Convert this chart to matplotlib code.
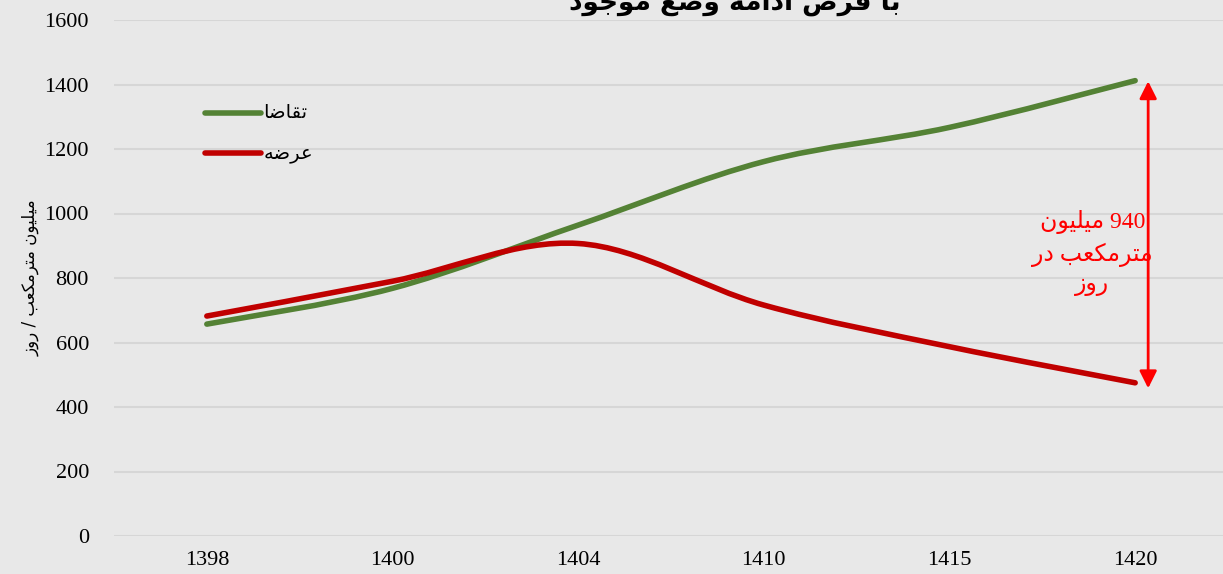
import re

import matplotlib
matplotlib.use("Agg")
from matplotlib import pyplot as plt
from matplotlib.path import Path
from matplotlib.patches import PathPatch

# داده‌ها
years = ["1398", "1400", "1404", "1410", "1415", "1420"]
demand = [657, 768, 964, 1161, 1267, 1412]   # تقاضا
supply = [682, 790, 907, 716, 587, 475]      # عرضه
yticks = [0, 200, 400, 600, 800, 1000, 1200, 1400, 1600]

title = "با فرض ادامه وضع موجود"
ylabel = "میلیون مترمکعب / روز"
demand_label = "تقاضا"
supply_label = "عرضه"
note_lines = ["940 میلیون", "مترمکعب در", "روز"]

# شکل‌دهی دستی حروف فارسی (matplotlib خودش این کار را نمی‌کند)
FORMS = {
    "ا": ("\uFE8D", "\uFE8E"), "د": ("\uFEA9", "\uFEAA"), "ر": ("\uFEAD", "\uFEAE"),
    "ز": ("\uFEAF", "\uFEB0"), "و": ("\uFEED", "\uFEEE"),
    "ب": ("\uFE8F", "\uFE90", "\uFE91", "\uFE92"), "ت": ("\uFE95", "\uFE96", "\uFE97", "\uFE98"),
    "ج": ("\uFE9D", "\uFE9E", "\uFE9F", "\uFEA0"), "ض": ("\uFEBD", "\uFEBE", "\uFEBF", "\uFEC0"),
    "ع": ("\uFEC9", "\uFECA", "\uFECB", "\uFECC"), "ف": ("\uFED1", "\uFED2", "\uFED3", "\uFED4"),
    "ق": ("\uFED5", "\uFED6", "\uFED7", "\uFED8"), "ک": ("\uFB8E", "\uFB8F", "\uFB90", "\uFB91"),
    "ل": ("\uFEDD", "\uFEDE", "\uFEDF", "\uFEE0"), "م": ("\uFEE1", "\uFEE2", "\uFEE3", "\uFEE4"),
    "ن": ("\uFEE5", "\uFEE6", "\uFEE7", "\uFEE8"), "ه": ("\uFEE9", "\uFEEA", "\uFEEB", "\uFEEC"),
    "ی": ("\uFBFC", "\uFBFD", "\uFBFE", "\uFBFF"),
}


def fa(text):
    out = []
    for i, c in enumerate(text):
        if c not in FORMS:
            out.append(c)
            continue
        prev = text[i - 1] if i > 0 else ""
        nxt = text[i + 1] if i + 1 < len(text) else ""
        f = FORMS[c]
        jp = prev in FORMS and len(FORMS[prev]) == 4
        jn = nxt in FORMS and len(f) == 4
        if jp and jn:
            out.append(f[3])
        elif jp:
            out.append(f[1])
        elif jn:
            out.append(f[2])
        else:
            out.append(f[0])
    vis = "".join(out)[::-1]
    return re.sub(r"[0-9]+", lambda m: m.group()[::-1], vis)


def smooth_path(ys):
    # خط نرم به سبک اکسل (منحنی بزیه از روی نقاط)
    xs = list(range(len(ys)))
    verts = [(xs[0], ys[0])]
    codes = [Path.MOVETO]
    n = len(ys)
    for i in range(n - 1):
        p0 = (xs[max(i - 1, 0)], ys[max(i - 1, 0)])
        p1 = (xs[i], ys[i])
        p2 = (xs[i + 1], ys[i + 1])
        p3 = (xs[min(i + 2, n - 1)], ys[min(i + 2, n - 1)])
        c1 = (p1[0] + (p2[0] - p0[0]) / 6, p1[1] + (p2[1] - p0[1]) / 6)
        c2 = (p2[0] - (p3[0] - p1[0]) / 6, p2[1] - (p3[1] - p1[1]) / 6)
        verts += [c1, c2, p2]
        codes += [Path.CURVE4] * 3
    return Path(verts, codes)


bg = "#e8e8e8"
green = "#548235"
red = "#c00000"
serif = ["Liberation Serif", "DejaVu Sans"]

fig = plt.figure(figsize=(12.23, 5.74), dpi=100, facecolor=bg)
ax = fig.add_axes([114 / 1223, 38 / 574, 1114 / 1223, 516 / 574])
ax.set_facecolor(bg)

ax.add_patch(PathPatch(smooth_path(demand), fill=False, edgecolor=green, lw=4, capstyle="round"))
ax.add_patch(PathPatch(smooth_path(supply), fill=False, edgecolor=red, lw=4, capstyle="round"))

ax.set_xlim(-0.5, len(years) - 0.5)
ax.set_ylim(0, 1600)
ax.set_xticks(range(len(years)))
ax.set_xticklabels(years)
ax.set_yticks(yticks)
for lab in ax.get_xticklabels() + ax.get_yticklabels():
    lab.set_family(serif)
    lab.set_fontsize(16)
ax.tick_params(axis="both", length=0)
ax.tick_params(axis="y", pad=18)
ax.tick_params(axis="x", pad=11)
ax.grid(axis="y", color="#d6d6d6", lw=1.5)
ax.set_axisbelow(True)
for s in ax.spines.values():
    s.set_visible(False)

ax.set_ylabel(fa(ylabel), family="DejaVu Sans", fontsize=12)
ax.yaxis.set_label_coords(-0.067, 0.5)

# راهنما
for y, col, lab in [(0.82, green, demand_label), (0.742, red, supply_label)]:
    ax.plot([0.082, 0.132], [y, y], color=col, lw=4, solid_capstyle="round",
            transform=ax.transAxes)
    ax.text(0.134, y, fa(lab), transform=ax.transAxes, fontsize=14,
            family="DejaVu Sans", va="center", ha="left")

# فلش اختلاف عرضه و تقاضا
ax.annotate("", xy=(5.07, 1410), xytext=(5.07, 458),
            arrowprops=dict(arrowstyle="<|-|>", color="red", lw=2,
                            mutation_scale=26, shrinkA=0, shrinkB=0))
ax.text(4.77, 877, "\n".join(fa(t) for t in note_lines), color="red",
        fontsize=17, family=serif, ha="center", va="center", linespacing=1.45)

fig.text(735 / 1223, 1 - 10 / 574, fa(title), ha="center", va="baseline",
         fontsize=19, weight="bold", family="DejaVu Sans")

fig.savefig("out.png", dpi=100, facecolor=bg)
